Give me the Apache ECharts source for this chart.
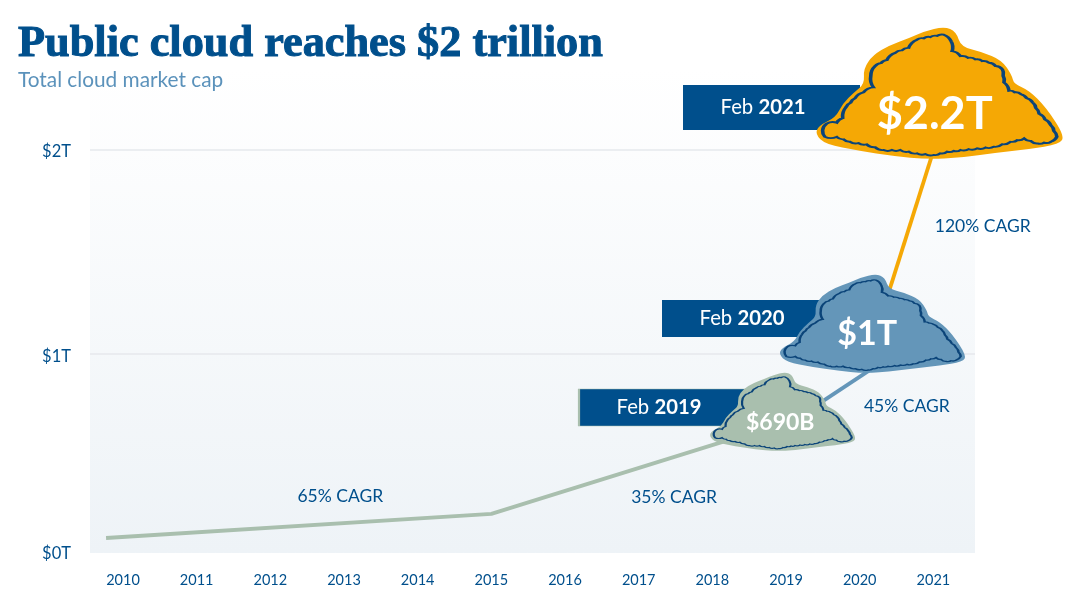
<!DOCTYPE html>
<html><head><meta charset="utf-8">
<style>html,body{margin:0;padding:0;background:#fff}#c{width:1072px;height:600px}</style>
<script src="https://cdn.jsdelivr.net/npm/echarts@6/dist/echarts.min.js"></script>
</head><body><div id="c"></div>
<script>
const years = [2010,2011,2012,2013,2014,2015,2016,2017,2018,2019,2020,2021];
const yTicks = [0.0245,1,2];
const yTickLabels = ['$0T','$1T','$2T'];
const greenLine = [[2009.77,0.098],[2015,0.216],[2019.13,0.68]];
const blueLine = [[2019.13,0.68],[2020.47,1]];
const orangeLine = [[2020.13,1],[2021.18,2.2]];
const cagrLabels = [[2012.95,0.3,'65% CAGR'],[2017.48,0.295,'35% CAGR'],[2020.64,0.745,'45% CAGR'],[2021.67,1.622,'120% CAGR']];
const milestones = [
 {date:2019.13,value:0.69,label:'$690B',month:'Feb',year:'2019',color:'#a9bfae',w:145,h:78,off:[-13,-5.3],font:23,lab:[-2.5,10],box:[579,389,760,426],boxText:659,boxBorder:'#a9bfae',lw:1.6},
 {date:2020.13,value:1,label:'$1T',month:'Feb',year:'2020',color:'#6496b9',w:185,h:98,off:[3.2,-30],font:34,lab:[-5.5,8.7],box:[662,300,830,337],boxText:742,boxBorder:'#004f8c',lw:1.8},
 {date:2021.13,value:2.2,label:'$2.2T',month:'Feb',year:'2021',color:'#f5a805',w:246,h:131,off:[-3.4,-15.5],font:45,lab:[-5,19],box:[683,85,860,130],boxText:763,boxBorder:'#004f8c',lw:2.6}
];
const NAVY='#004f8c', FONT='Lato';
const outlinePts=[[488,335],[500,315],[530,312],[548,298],[558,265],[585,238],[610,220],[640,205],[632,170],[645,140],[680,122],[705,100],[745,85],[770,60],[810,52],[850,45],[872,65],[875,95],[900,110],[945,120],[985,130],[1025,150],[1030,190],[1045,215],[1080,225],[1115,250],[1135,285],[1170,320],[1188,355],[1170,370],[1130,375],[1090,360],[1050,370],[1000,385],[950,390],[900,395],[860,400],[820,410],[770,405],[720,395],[670,395],[620,378],[570,370],[530,355],[495,355]];
const haloPts=[[470,345],[480,320],[530,295],[550,255],[585,220],[615,195],[612,150],[640,110],[690,80],[745,60],[790,40],[850,25],[885,40],[900,85],[960,100],[1020,125],[1050,170],[1055,195],[1100,215],[1150,265],[1205,350],[1190,375],[1100,390],[1000,400],[900,415],[800,420],[700,410],[600,395],[500,375]];
function bumpy(p){let d='M'+p[0].join(' ');for(let i=0;i<p.length;i++){const a=p[i],b=p[(i+1)%p.length];const dx=b[0]-a[0],dy=b[1]-a[1];const n=Math.hypot(dx,dy)>36?2:1;for(let j=0;j<n;j++){const x0=a[0]+dx*j/n,y0=a[1]+dy*j/n,x1=a[0]+dx*(j+1)/n,y1=a[1]+dy*(j+1)/n;d+=' Q'+(((x0+x1)/2+(dy/n)*.22).toFixed(1))+' '+(((y0+y1)/2-(dx/n)*.22).toFixed(1))+' '+x1.toFixed(1)+' '+y1.toFixed(1);}}return 'path://'+d+' Z';}
function smooth(p){const m=(a,b)=>[(a[0]+b[0])/2,(a[1]+b[1])/2];let s=m(p[p.length-1],p[0]);let d='M'+s.join(' ');for(let i=0;i<p.length;i++){const e=m(p[i],p[(i+1)%p.length]);d+=' Q'+p[i].join(' ')+' '+e.join(' ');}return 'path://'+d+' Z';}
const lineS=(data,color,z)=>({type:'line',data,symbol:'none',z,silent:true,clip:false,lineStyle:{color,width:3.8,join:'round'}});
const series=[lineS(greenLine,'#a9bfae',3),lineS(blueLine,'#6496b9',3),lineS(orangeLine,'#f5a805',3)];
series.push({type:'scatter',clip:false,symbol:'circle',symbolSize:1,itemStyle:{color:'rgba(0,0,0,0)',opacity:1},silent:true,z:4,data:cagrLabels.map(c=>({value:[c[0],c[1]],name:c[2]})),
 label:{show:true,position:'inside',formatter:'{b}',color:NAVY,opacity:1,fontFamily:FONT,fontSize:17.5}});
milestones.forEach((m,i)=>{
 const z=5+i*3;
 const ax=123+(m.date-2010)*73.67, ay=553-(m.value-0.0245)*204.17;
 const bw=m.box[2]-m.box[0],bh=m.box[3]-m.box[1];
 const pt=[{value:[m.date,m.value]}];
 series.push({type:'scatter',clip:false,silent:true,z,data:pt,symbol:'rect',symbolSize:[bw,bh],
  symbolOffset:[(m.box[0]+m.box[2])/2-ax,(m.box[1]+m.box[3])/2-ay],
  itemStyle:{color:NAVY,opacity:1,borderColor:m.boxBorder,borderWidth:m.boxBorder===NAVY?0:1},
  label:{show:true,position:'inside',offset:[m.boxText-(m.box[0]+m.box[2])/2,0],formatter:m.month+' {b|'+m.year+'}',color:'#fff',fontFamily:FONT,fontSize:20.3,rich:{b:{fontFamily:FONT,fontWeight:'bold',fontSize:20.3,color:'#fff'}}}});
 series.push({type:'scatter',clip:false,silent:true,z:z+1,data:pt,symbol:smooth(haloPts),symbolSize:[m.w,m.h],symbolOffset:m.off,itemStyle:{color:m.color,opacity:1}});
 const sx=m.w/735, sy=m.h/395;
 series.push({type:'scatter',clip:false,silent:true,z:z+2,data:pt,symbol:bumpy(outlinePts),symbolSize:[700*sx,365*sy],symbolOffset:[m.off[0]+0.5*sx,m.off[1]+5*sy],
  itemStyle:{color:m.color,opacity:1,borderColor:'#0b4479',borderWidth:m.lw},
  label:{show:true,position:'inside',offset:m.lab,formatter:m.label,color:'#fff',fontFamily:FONT,fontWeight:'bold',fontSize:m.font}});
});
const chart=echarts.init(document.getElementById('c'));
chart.setOption({animation:false,backgroundColor:'#fff',
 title:{left:13,top:18,text:'Public cloud reaches $2 trillion',textStyle:{fontFamily:'Liberation Serif',fontWeight:'bold',fontSize:44.3,color:NAVY,textBorderColor:NAVY,textBorderWidth:1},
  subtext:'Total cloud market cap',subtextStyle:{fontFamily:FONT,fontSize:20.8,color:'#5b92bb'},itemGap:2},
 grid:{show:true,left:90,right:97,top:68,bottom:47,borderWidth:0,
  backgroundColor:new echarts.graphic.LinearGradient(0,0,0,1,[{offset:0,color:'#ffffff'},{offset:1,color:'#eef3f7'}])},
 xAxis:{type:'value',min:2009.552,max:2021.565,axisLine:{show:false},axisTick:{show:false},splitLine:{show:false},
  axisLabel:{customValues:years,color:NAVY,fontFamily:FONT,fontSize:14.5,margin:20,formatter:v=>String(Math.round(v)),hideOverlap:false}},
 yAxis:{type:'value',min:0.0245,max:2.4,axisLine:{show:false},axisTick:{show:false,customValues:yTicks},
  splitLine:{show:true,showMinLine:false,showMaxLine:true,lineStyle:{color:'#e6e9ed',width:1.5}},
  axisLabel:{customValues:yTicks,color:NAVY,fontFamily:FONT,fontSize:16.5,margin:19,
   formatter:v=>{const i=yTicks.indexOf(v);return (i===0?'{z|':'{a|')+yTickLabels[i]+'}';},
   rich:{a:{fontFamily:FONT,fontSize:16.5,color:NAVY,padding:[5,0,0,0]},z:{fontFamily:FONT,fontSize:16.5,color:NAVY,padding:[1,0,0,0]}}}},
 series});
</script></body></html>
